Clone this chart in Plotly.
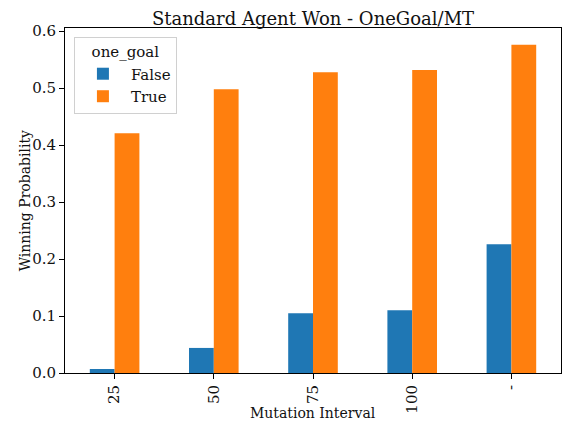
import plotly.graph_objects as go

categories = ["25", "50", "75", "100", "-"]
false_vals = [0.007, 0.044, 0.105, 0.110, 0.226]
true_vals = [0.421, 0.498, 0.528, 0.532, 0.576]
series_names = ["False", "True"]
colors = ["#1f77b4", "#ff7f0e"]

FONT = "DejaVu Serif"
TXT = "#111111"

fig = go.Figure()
for name, vals, c in zip(series_names, [false_vals, true_vals], colors):
    fig.add_trace(go.Bar(x=categories, y=vals, name=name, marker=dict(color=c, line=dict(width=0))))

axis_common = dict(showline=True, mirror=True, linecolor="black", linewidth=1,
                   ticks="outside", ticklen=5, tickcolor="black", tickwidth=1,
                   showgrid=False, zeroline=False, automargin=False,
                   tickfont=dict(family=FONT, size=15, color=TXT))

fig.update_layout(
    template="none",
    width=565, height=423,
    margin=dict(l=65, r=4, t=28, b=50, autoexpand=False),
    barmode="group", bargap=0.5, bargroupgap=0,
    plot_bgcolor="white", paper_bgcolor="white",
    font=dict(family=FONT, size=14, color=TXT),
    title=dict(text="Standard Agent Won - OneGoal/MT", x=0.5, xref="paper", xanchor="center",
               y=1, yref="paper", yanchor="bottom", pad=dict(b=3),
               font=dict(family=FONT, size=18, color=TXT)),
    legend=dict(title=dict(text="one_goal", side="top center", font=dict(family=FONT, size=15, color=TXT)),
                x=0.018, y=0.974, xanchor="left", yanchor="top",
                bordercolor="#d0d0d0", borderwidth=1, bgcolor="rgba(255,255,255,0.8)",
                itemwidth=46, tracegroupgap=6,
                font=dict(family=FONT, size=15, color=TXT)),
    xaxis=dict(type="category", tickangle=-90, **axis_common),
    yaxis=dict(range=[0, 0.6056], tickvals=[0, 0.1, 0.2, 0.3, 0.4, 0.5, 0.6],
               tickformat=".1f", **axis_common),
    annotations=[
        dict(text="Mutation Interval", xref="paper", yref="paper", x=0.5, y=-0.116,
             xanchor="center", yanchor="middle", showarrow=False,
             font=dict(family=FONT, size=14, color=TXT)),
        dict(text="Winning Probability", xref="paper", yref="paper", x=-0.081, y=0.5,
             xanchor="center", yanchor="middle", textangle=-90, showarrow=False,
             font=dict(family=FONT, size=14, color=TXT)),
    ],
)
fig.write_html("out.html", config={"displayModeBar": False},
               post_script="document.body.style.margin='0';document.body.style.padding='0';")
